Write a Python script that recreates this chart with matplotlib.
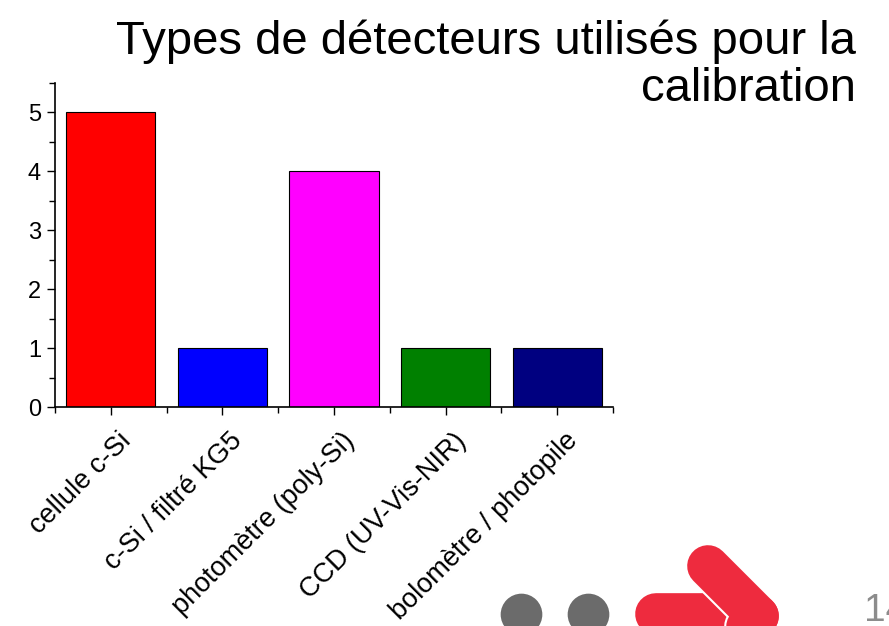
import matplotlib
matplotlib.use('Agg')
import matplotlib.pyplot as plt
from matplotlib.lines import Line2D
from matplotlib.ticker import MultipleLocator
from matplotlib.transforms import ScaledTranslation

plt.rcParams['font.family'] = ['Liberation Sans', 'DejaVu Sans']

# data
detectors = ['cellule c-Si', 'c-Si / filtré KG5', 'photomètre (poly-Si)',
             'CCD (UV-Vis-NIR)', 'bolomètre / photopile']
counts = [5, 1, 4, 1, 1]
colors = ['#ff0000', '#0000ff', '#ff00ff', '#008000', '#000080']
title = 'Types de détecteurs utilisés pour la\ncalibration'

W, H = 889, 626
fig = plt.figure(figsize=(W / 100, H / 100), dpi=100)

def fx(px):
    return px / W

def fy(py):
    return 1 - py / H

ax = fig.add_axes([fx(55), fy(407), fx(613) - fx(55), fy(83) - fy(407)])
xpos = list(range(len(detectors)))
ax.bar(xpos, counts, width=0.8, color=colors, edgecolor='black', linewidth=0.8)

ax.set_xlim(-0.5, 4.5)
ax.set_ylim(0, 5.5)
ax.set_xticks(xpos)
ax.set_xticklabels([])
# rotated category labels, anchored a bit right of each tick like the original
shift = ScaledTranslation(0.07, -0.21, fig.dpi_scale_trans)
for i, name in zip(xpos, detectors):
    ax.text(i, 0, name, transform=ax.get_xaxis_transform() + shift,
            rotation=45, rotation_mode='anchor', ha='right', va='top',
            fontsize=19.5)
ax.set_xticks([p + 0.5 for p in [-1] + xpos], minor=True)
ax.yaxis.set_major_locator(MultipleLocator(1))
ax.yaxis.set_minor_locator(MultipleLocator(0.5))
ax.tick_params(axis='y', labelsize=17, length=6, width=1, pad=4)
ax.tick_params(axis='x', length=6, width=1)
ax.tick_params(which='minor', length=4, width=1)
for s in ['top', 'right']:
    ax.spines[s].set_visible(False)
for s in ['left', 'bottom']:
    ax.spines[s].set_linewidth(1.2)

fig.text(fx(856), fy(101), title, ha='right', va='baseline', multialignment='right',
         fontsize=34, linespacing=1.1)

# slide decorations (logo and page number)
red = '#ee2b3e'
for cx in [521, 588]:
    fig.lines.append(Line2D([fx(cx)], [fy(614)], marker='o', markersize=30,
                            color='#6b6b6b', markeredgewidth=0,
                            transform=fig.transFigure))
fig.lines.append(Line2D([fx(656), fx(725)], [fy(614), fy(614)], lw=30,
                        color=red, solid_capstyle='round',
                        transform=fig.transFigure))
diag1 = ([fx(708), fx(758)], [fy(566), fy(616)])
diag2 = ([fx(758), fx(728)], [fy(616), fy(646)])
for xs, ys in [diag1, diag2]:
    fig.lines.append(Line2D(xs, ys, lw=33, color='white', solid_capstyle='round',
                            transform=fig.transFigure))
for xs, ys in [diag2, diag1]:
    fig.lines.append(Line2D(xs, ys, lw=30, color=red, solid_capstyle='round',
                            transform=fig.transFigure))
fig.text(fx(864), fy(621), '14', ha='left', va='baseline', fontsize=28,
         color='#8c8c8c')

fig.savefig('out.png', dpi=100)
